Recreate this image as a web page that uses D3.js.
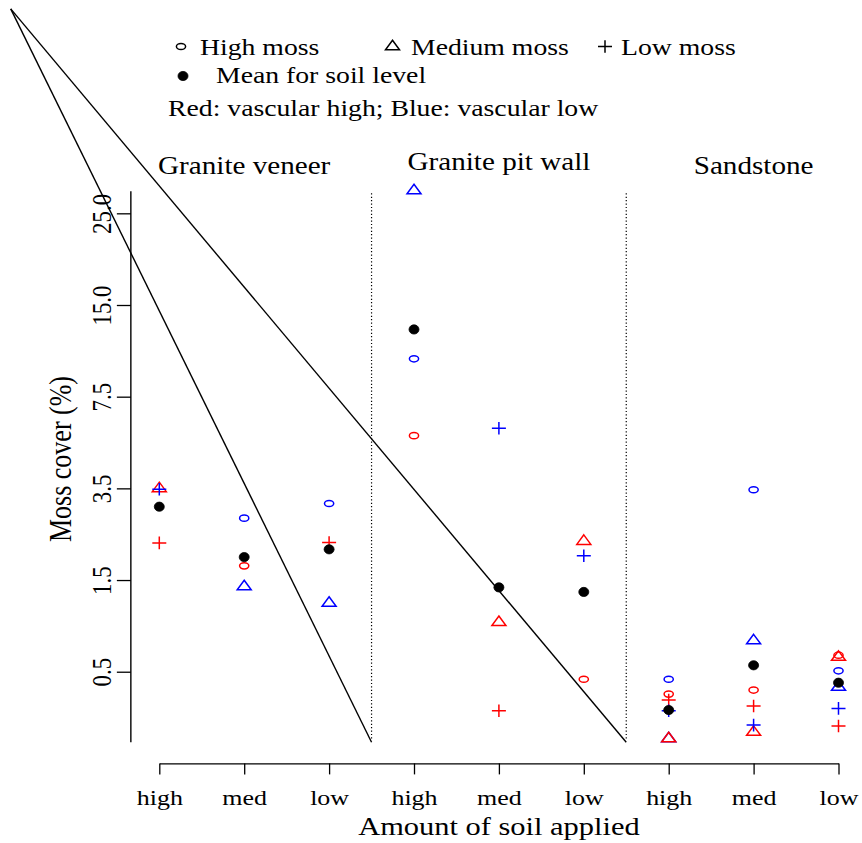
<!DOCTYPE html>
<html>
<head>
<meta charset="utf-8">
<script src="https://cdn.jsdelivr.net/npm/d3@7"></script>
<style>
  body { margin: 0; background: #fff; }
  text { font-family: "Liberation Serif", "Times New Roman", serif; fill: #000; }
</style>
</head>
<body>
<svg id="chart" width="862" height="843"></svg>
<script>
// sites and soil levels, columns go site by site: high, med, low
var sites = ["Granite veneer", "Granite pit wall", "Sandstone"];
var soilLevels = ["high", "med", "low"];
var yTicks = [0.5, 1.5, 3.5, 7.5, 15.0, 25.0];
var yBreaks = [0, 0.5, 1.5, 3.5, 7.5, 15, 25];   // axis is spaced evenly between these
var ylim = [0.115, 27.4];

// moss cover (%) per column, null = no visible point
var highMossRed  = [null, 1.81, null, 5.8,  null, 0.459, 0.378, 0.40, 0.68];
var highMossBlue = [null, 2.85, 3.17, 10.6, null, null,  0.459, 3.47, 0.51];
var medMossRed   = [3.5,  null, null, null, 1.04, 2.35,  0.136, 0.171, 0.66];
var medMossBlue  = [null, 1.43, 1.25, 27.5, null, null,  0.136, 0.84, 0.417];
var lowMossRed   = [2.31, null, 2.32, null, 0.287, null, 0.346, 0.313, 0.204];
var lowMossBlue  = [3.48, null, null, null, 6.12, 2.03,  0.287, 0.209, 0.30];
var soilMeans    = [3.10, 2.0,  2.17, 13.0, 1.42, 1.37,  0.291, 0.57, 0.44];

// the two stray lines of the original, from the corner to the foot of each separator
var separators = [3.5, 6.5];
var strayOrigin = {x: -0.75, y: 47.3};

var legendRows = [
  [{shape: "circle", label: "High moss", sx: 181, tx: 200},
   {shape: "triangle", label: "Medium moss", sx: 392.5, tx: 411},
   {shape: "plus", label: "Low moss", sx: 605, tx: 621}],
  [{shape: "dot", label: "Mean for soil level", sx: 183, tx: 216}]
];

var SX = 1.18; // the picture is stretched sideways
var svg = d3.select("#chart");

var x = d3.scaleLinear().domain([1, 9]).range([159.3, 838.5]);
var y = d3.scaleLinear().domain(yBreaks)
    .range(yBreaks.map(function(d, i) { return 763.4 - 91.68 * i; }));
var xLeft = x(0.665);

var shapes = {
  circle: "M-4.6,0A4.6,3.1 0 1,0 4.6,0A4.6,3.1 0 1,0 -4.6,0Z",
  triangle: "M0,-6.2L7,3.3L-7,3.3Z",
  plus: "M-7,0H7M0,-6.3V6.3",
  dot: "M-5,0A5,4.6 0 1,0 5,0A5,4.6 0 1,0 -5,0Z"
};

function symbol(g, shape, color) {
  g.append("path")
    .attr("d", shapes[shape])
    .attr("fill", shape == "dot" ? color : "none")
    .attr("stroke", color)
    .attr("stroke-width", shape == "dot" ? 0.8 : 1.5);
}

function label(txt, px, py, size, anchor) {
  return svg.append("text")
    .attr("transform", "translate(" + px + "," + py + ") scale(" + SX + ",1)")
    .attr("font-size", size)
    .attr("text-anchor", anchor || "start")
    .text(txt);
}

// stray lines
separators.forEach(function(s) {
  svg.append("line")
    .attr("x1", x(strayOrigin.x)).attr("y1", y(strayOrigin.y))
    .attr("x2", x(s)).attr("y2", y(ylim[0]))
    .attr("stroke", "#000").attr("stroke-width", 1.4);
});

// dotted separators
svg.selectAll(".sep").data(separators).enter().append("line")
  .attr("class", "sep")
  .attr("x1", function(d) { return x(d); }).attr("x2", function(d) { return x(d); })
  .attr("y1", y(ylim[1]) + 2).attr("y2", y(ylim[0]) - 1.5)
  .attr("stroke", "#000").attr("stroke-width", 1.2)
  .attr("stroke-dasharray", "1.2,2.2");

// x axis
var xAxis = svg.append("g")
  .attr("transform", "translate(0," + y(0) + ")")
  .call(d3.axisBottom(x).tickValues(d3.range(1, 10))
    .tickFormat(function(i) { return soilLevels[(i - 1) % 3]; })
    .tickSize(11).tickSizeOuter(0))
  .attr("font-family", null).attr("font-size", null);
xAxis.selectAll("path, line").attr("stroke-width", 1.3);
xAxis.selectAll("text")
  .attr("y", 42).attr("dy", null)
  .attr("font-size", 22)
  .attr("transform", "scale(" + SX + ",1)");

// y axis
var yAxis = svg.append("g")
  .attr("transform", "translate(" + xLeft + ",0)")
  .call(d3.axisLeft(y).tickValues(yTicks).tickFormat(d3.format(".1f")).tickSize(14))
  .attr("font-family", null).attr("font-size", null);
yAxis.select(".domain").remove();
yAxis.selectAll("line").attr("stroke-width", 1.3);
yAxis.append("line")
  .attr("x1", 0).attr("x2", 0)
  .attr("y1", y(ylim[1])).attr("y2", y(ylim[0]))
  .attr("stroke", "#000").attr("stroke-width", 1.4);
yAxis.selectAll("text")
  .attr("x", 0).attr("y", -17).attr("dy", null)
  .attr("text-anchor", "middle")
  .attr("font-size", 23)
  .attr("transform", "scale(" + SX + ",1) rotate(-90)");

// axis titles
label("Amount of soil applied", x(5), 835, 25.8, "middle");
svg.append("text")
  .attr("transform", "translate(71,459) scale(" + SX + ",1) rotate(-90)")
  .attr("font-size", 26)
  .attr("text-anchor", "middle")
  .text("Moss cover (%)");

// site titles
var titleBase = [174, 170, 174];
sites.forEach(function(s, i) {
  label(s, x(i * 3 + 2), titleBase[i], 24.7, "middle");
});

// points
var series = [
  {values: highMossBlue, shape: "circle", color: "#0000ff"},
  {values: highMossRed, shape: "circle", color: "#ff0000"},
  {values: medMossBlue, shape: "triangle", color: "#0000ff"},
  {values: medMossRed, shape: "triangle", color: "#ff0000"},
  {values: lowMossRed, shape: "plus", color: "#ff0000"},
  {values: lowMossBlue, shape: "plus", color: "#0000ff"},
  {values: soilMeans, shape: "dot", color: "#000"}
];
series.forEach(function(s) {
  var pts = s.values.map(function(v, i) { return {i: i + 1, v: v}; })
    .filter(function(d) { return d.v != null; });
  svg.append("g").selectAll("g").data(pts).enter().append("g")
    .attr("transform", function(d) { return "translate(" + x(d.i) + "," + y(d.v) + ")"; })
    .each(function() { symbol(d3.select(this), s.shape, s.color); });
});

// legend
var rowY = [46.5, 76], rowBase = [55, 83];
legendRows.forEach(function(row, r) {
  row.forEach(function(item) {
    var g = svg.append("g").attr("transform", "translate(" + item.sx + "," + rowY[r] + ")");
    symbol(g, item.shape, "#000");
    label(item.label, item.tx, rowBase[r], 23.5);
  });
});
label("Red: vascular high; Blue: vascular low", 168, 116, 23.5);
</script>
</body>
</html>
